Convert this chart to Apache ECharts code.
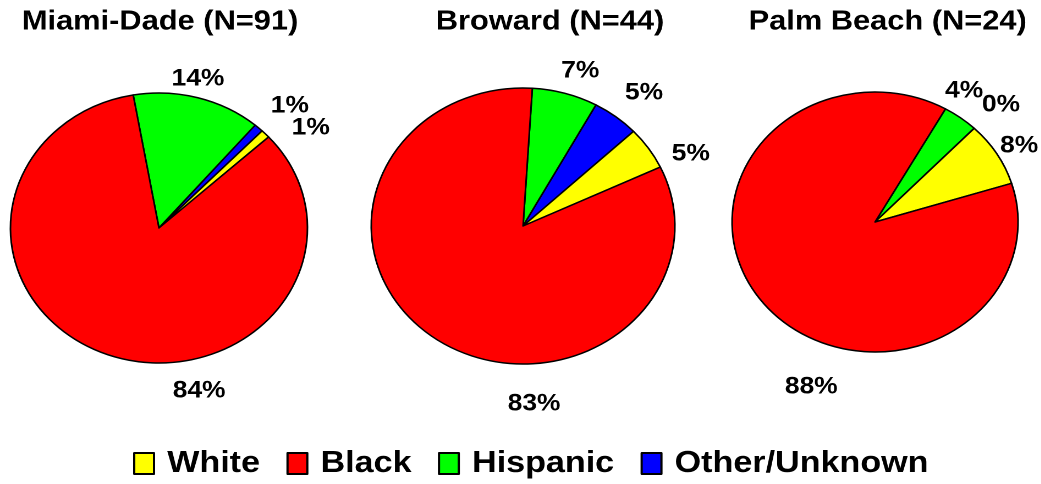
<!DOCTYPE html>
<html>
<head>
<meta charset="utf-8">
<script src="https://cdn.jsdelivr.net/npm/echarts@6/dist/echarts.min.js"></script>
<style>
  html, body { margin: 0; padding: 0; background: #fff; overflow: hidden; }
  /* the drawing is laid out on a narrower canvas and widened to fill the page */
  #chart { width: 946px; height: 484px; transform: scaleX(1.1); transform-origin: 0 0; }
</style>
</head>
<body>
<div id="chart"></div>
<script>
// Race/ethnicity shares (%) by county, listed clockwise from each pie's start angle
const categories = ['Hispanic', 'Other/Unknown', 'White', 'Black'];
const legendOrder = ['White', 'Black', 'Hispanic', 'Other/Unknown'];
const countyTitles = ['Miami-Dade (N=91)', 'Broward (N=44)', 'Palm Beach (N=24)'];
const miamiDade = [14, 1, 1, 84];
const broward = [7, 5, 5, 83];
const palmBeach = [4, 0, 8, 88];
const countyValues = [miamiDade, broward, palmBeach];

// Styling and layout
const colors = { 'White': '#ffff00', 'Black': '#ff0000', 'Hispanic': '#00ff00', 'Other/Unknown': '#0000ff' };
const FONT = '"Liberation Sans", Arial, Helvetica, sans-serif';
const pieLayout = [
  { center: [144.5, 228], radius: 135, startAngle: 100, titleX: 145.5 },
  { center: [475.5, 226], radius: 138, startAngle: 86.5, titleX: 500 },
  { center: [795.5, 222], radius: 130, startAngle: 60.5, titleX: 807 }
];
// label anchor offsets from each pie centre, in category order
const labelOffsets = [
  [[35.5, -149], [119, -122], [138, -100], [36.5, 163]],
  [[52, -155], [110, -133], [152.5, -72], [10, 178]],
  [[81, -131], [114.5, -117], [131, -76], [-58, 165]]
];

const chart = echarts.init(document.getElementById('chart'), null, { devicePixelRatio: 2 });

const series = countyValues.map((vals, s) => ({
  type: 'pie',
  name: countyTitles[s],
  center: pieLayout[s].center,
  radius: pieLayout[s].radius,
  startAngle: pieLayout[s].startAngle,
  clockwise: true,
  avoidLabelOverlap: false,
  silent: true,
  data: categories.map((c, i) => ({
    name: c,
    value: vals[i],
    itemStyle: { color: colors[c] }
  })),
  itemStyle: { borderColor: '#000', borderWidth: 1.5 },
  label: {
    show: true,
    position: 'outside',
    formatter: '{c}%',
    fontFamily: FONT,
    fontSize: 24,
    fontWeight: 'bold',
    color: '#000'
  },
  labelLine: { show: false },
  labelLayout: (p) => {
    const off = labelOffsets[s][p.dataIndex];
    const c = pieLayout[s].center;
    return { x: c[0] + off[0], y: c[1] + off[1], align: 'center', verticalAlign: 'middle' };
  },
  emphasis: { disabled: true }
}));

chart.setOption({
  animation: false,
  backgroundColor: '#fff',
  graphic: countyTitles.map((t, s) => ({
    type: 'text',
    x: pieLayout[s].titleX,
    y: 22,
    style: {
      text: t,
      fontFamily: FONT,
      fontSize: 28,
      fontWeight: 'bold',
      fill: '#000',
      align: 'center',
      verticalAlign: 'middle'
    }
  })),
  legend: {
    data: legendOrder,
    left: 121,
    top: 448,
    padding: 0,
    itemWidth: 18,
    itemHeight: 21,
    itemGap: 24,
    icon: 'rect',
    selectedMode: false,
    itemStyle: { borderColor: '#000', borderWidth: 2 },
    textStyle: {
      fontFamily: FONT,
      fontSize: 31,
      fontWeight: 'bold',
      color: '#000',
      padding: [0, 0, 0, 7]
    }
  },
  series: series
});
</script>
</body>
</html>
